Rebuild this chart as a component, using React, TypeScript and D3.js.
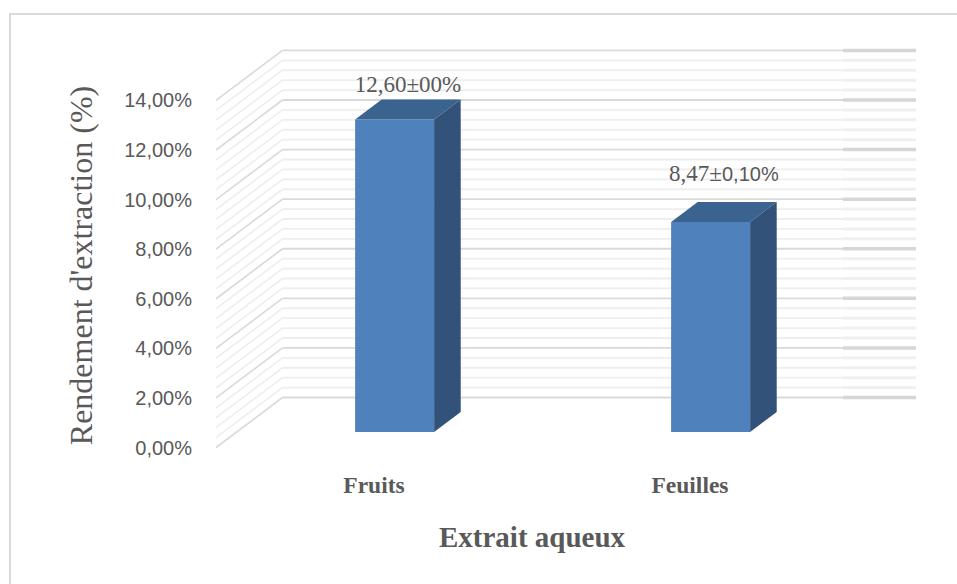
import React from "react";
import * as d3 from "d3";

const categories = ["Fruits", "Feuilles"];
const values = [12.6, 8.47];
const labelMain = ["12,60±00%", "8,47±"];
const labelTail = ["", "0,10%"];
const majorTicks = [0, 2, 4, 6, 8, 10, 12, 14];
const tickLabels = ["0,00%", "2,00%", "4,00%", "6,00%", "8,00%", "10,00%", "12,00%", "14,00%"];
const yTitle = "Rendement d'extraction (%)";
const xTitle = "Extrait aqueux";

const W = 957;
const H = 584;
const TXT = "#595959";
const SERIF = "'Liberation Serif', 'Times New Roman', Times, 'DejaVu Serif', serif";
const SANS = "'Liberation Sans', Arial, sans-serif";

export default function App() {
  const x = d3.scaleBand<string>().domain(categories).range([216, 848]).paddingInner(0).paddingOuter(0);
  const y = d3.scaleLinear().domain([0, 14]).range([447.5, 100.4]);
  const DX = 66.5;
  const DY = -50;
  const d0 = 0.31;
  const dD = 0.4;
  const bw = x.bandwidth() * 0.25;
  const minor = d3.range(0, 14.001, 0.4).filter((v) => Math.abs(v / 2 - Math.round(v / 2)) > 1e-6);
  const backEnd = 843;
  const backEnd2 = x.range()[1] + DX + 1.5;
  const labelLift = [8, 21];

  const wallLine = (v: number, major: boolean, key: string) => {
    const yf = y(v);
    const yb = yf + DY;
    const col = major ? "#d9d9d9" : "#eeeeee";
    return (
      <g key={key}>
        <line x1={x.range()[0]} y1={yf} x2={x.range()[0] + DX} y2={yb} stroke={col} strokeWidth={1.6} />
        <line x1={x.range()[0] + DX} y1={yb} x2={backEnd} y2={yb} stroke={col} strokeWidth={1.8} />
        <line x1={backEnd} y1={yb} x2={backEnd2} y2={yb} stroke={major ? "#d6d6d6" : "#f0f0f0"} strokeWidth={major ? 3.5 : 3} />
      </g>
    );
  };

  return (
    <svg width={W} height={H} style={{ position: "absolute", left: 0, top: 0, background: "#fff" }}>
      <rect x={10} y={14} width={W} height={H} fill="#fff" stroke="#d9d9d9" strokeWidth={2} />
      {minor.map((v, i) => wallLine(v, false, "m" + i))}
      {majorTicks.map((v, i) => wallLine(v, true, "M" + i))}
      {tickLabels.map((t, i) => (
        <text key={t} x={192} y={y(majorTicks[i])} dy="0.35em" textAnchor="end" style={{ fontFamily: SANS }} fontSize={20} fill={TXT}>
          {t}
        </text>
      ))}
      {categories.map((c, i) => {
        const x0 = (x(c) as number) + x.bandwidth() / 2 - bw / 2 + d0 * DX;
        const yt = y(values[i]) + d0 * DY;
        const yb = y(0) + d0 * DY;
        const ddx = dD * DX;
        const ddy = dD * DY;
        const top = [[x0, yt], [x0 + bw, yt], [x0 + bw + ddx, yt + ddy], [x0 + ddx, yt + ddy]];
        const side = [[x0 + bw, yt], [x0 + bw + ddx, yt + ddy], [x0 + bw + ddx, yb + ddy], [x0 + bw, yb]];
        const cx = x0 + bw / 2 + ddx / 2;
        return (
          <g key={c}>
            <rect x={x0} y={yt} width={bw} height={yb - yt} fill="#4f81bd" />
            <polygon points={top.map((p) => p.join(",")).join(" ")} fill="#3b6390" />
            <polygon points={side.map((p) => p.join(",")).join(" ")} fill="#325279" />
            <text x={cx} y={yt + ddy - labelLift[i]} textAnchor="middle" fill={TXT} fontSize={23} style={{ fontFamily: SERIF }}>
              {labelMain[i]}
              {labelTail[i] ? (
                <tspan style={{ fontFamily: SANS }} fontSize={20}>
                  {labelTail[i]}
                </tspan>
              ) : null}
            </text>
            <text x={(x(c) as number) + x.bandwidth() / 2} y={493} textAnchor="middle" fill={TXT} fontSize={23.5} fontWeight="bold" style={{ fontFamily: SERIF }}>
              {c}
            </text>
          </g>
        );
      })}
      <text transform={`translate(92,265.5) rotate(-90)`} textAnchor="middle" fill={TXT} fontSize={32} style={{ fontFamily: SERIF }}>
        {yTitle}
      </text>
      <text x={(x.range()[0] + x.range()[1]) / 2} y={547} textAnchor="middle" fill={TXT} fontSize={29} fontWeight="bold" style={{ fontFamily: SERIF }}>
        {xTitle}
      </text>
    </svg>
  );
}
